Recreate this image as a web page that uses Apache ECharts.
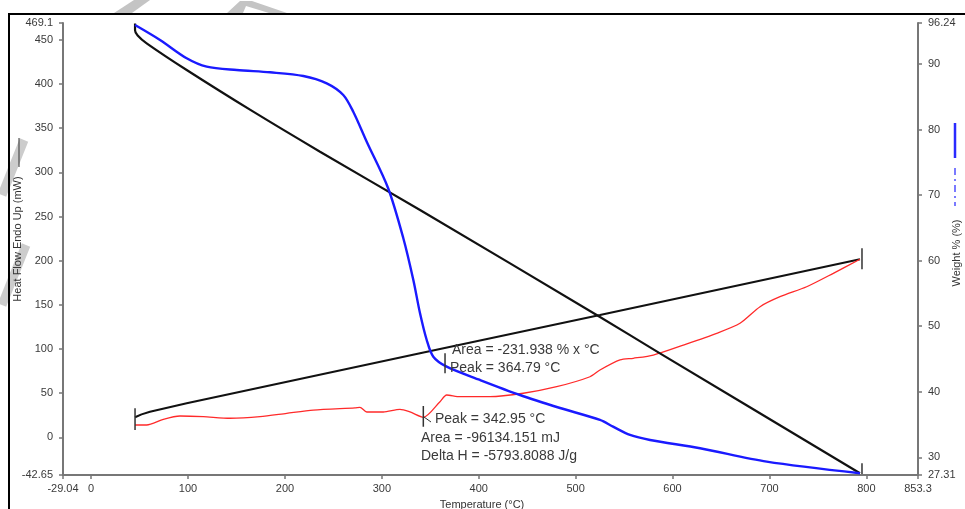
<!DOCTYPE html>
<html>
<head>
<meta charset="utf-8">
<script src="https://cdn.jsdelivr.net/npm/echarts@6/dist/echarts.min.js"></script>
<style>html,body{margin:0;padding:0;background:#fff;}#c{width:965px;height:509px;}</style>
</head>
<body>
<div id="c"></div>
<script>
// ---- tick labels ----
const xTicks = [-29.04, 0, 100, 200, 300, 400, 500, 600, 700, 800, 853.3];
const yLeftTicks = [-42.65, 0, 50, 100, 150, 200, 250, 300, 350, 400, 450, 469.1];
const yRightTicks = [27.31, 30, 40, 50, 60, 70, 80, 90, 96.24];

// ---- heat flow (black, descending, left axis) ----
const heatT = [45.3, 45.3, 48.0, 57.3, 98.6, 167.3, 236.2, 339.4, 521.7, 587.0, 793.4];
const heatV = [468.5, 461.0, 455.0, 446.1, 415.9, 368.7, 323.4, 257.4, 138.5, 95.1, -40.7];

// ---- weight % (blue, right axis) ----
const wT = [45.3, 71.1, 98.6, 119.3, 150.2, 184.6, 219.0, 243.1, 260.2, 270.5, 284.4, 306.4, 322.1, 332.5, 339.4, 346.3, 353.1, 366.9, 401.3, 442.6, 483.9, 525.1, 538.6, 556.1, 576.8, 628.4, 697.2, 793.4];
const wV = [95.93, 93.65, 90.86, 89.58, 89.07, 88.72, 88.16, 87.04, 85.26, 82.71, 78.14, 71.08, 63.45, 57.05, 51.97, 47.90, 45.35, 43.83, 41.80, 39.51, 37.53, 35.70, 34.68, 33.42, 32.65, 31.39, 29.34, 27.57];

// ---- red signal (left axis) ----
const rT = [45.3, 57.3, 74.5, 91.7, 115.7, 143.3, 174.3, 201.8, 229.3, 272.3, 277.4, 284.4, 301.5, 318.7, 329.1, 342.95, 360.0, 366.9, 380.6, 411.6, 446.0, 480.4, 514.8, 525.1, 545.8, 559.5, 580.1, 611.1, 645.6, 669.6, 690.3, 710.9, 738.4, 765.9, 793.4];
const rV = [13.96, 13.96, 20.4, 24.15, 23.4, 21.6, 23.4, 27.2, 30.9, 33.4, 34.0, 28.7, 28.7, 31.7, 28.7, 22.7, 40.3, 47.9, 46.0, 46.0, 49.9, 57.3, 68.6, 76.2, 87.6, 89.5, 93.2, 104.5, 117.8, 129.1, 147.9, 159.2, 170.5, 185.7, 201.6];

// ---- baseline (black, rising, left axis) ----
const bT = [45.3, 52.0, 60.7, 98.6, 339.4, 525.1, 793.4];
const bV = [22.7, 26.0, 29.0, 38.5, 95.3, 138.5, 201.6];

// ---- vertical limit/peak markers ----
const markT = [45.3, 795.5, 795.5, 342.8, 365.2];
const markLow = [8.3, 190.2, -41.5, 12.0, 72.5];
const markHigh = [32.9, 214.0, -29.4, 35.5, 95.1];
const markAxis = [0, 0, 0, 0, 0];

// ---- annotations ----
const notes = [
  {text: 'Area = -231.938 % x °C', left: 452, top: 343},
  {text: 'Peak = 364.79 °C', left: 450, top: 361},
  {text: 'Peak = 342.95 °C', left: 435, top: 412},
  {text: 'Area = -96134.151 mJ', left: 421, top: 431},
  {text: 'Delta H = -5793.8088 J/g', left: 421, top: 449}
];

const zip = (a, b) => a.map((v, i) => [v, b[i]]);
const FONT = '"Liberation Sans", Arial, sans-serif';

const series = [
  {name: 'Baseline', type: 'line', yAxisIndex: 0, data: zip(bT, bV), showSymbol: false, smooth: false,
   lineStyle: {color: '#111', width: 2}, z: 3},
  {name: 'Signal', type: 'line', yAxisIndex: 0, data: zip(rT, rV), showSymbol: false, smooth: 0.25,
   lineStyle: {color: '#ff2a2a', width: 1.3}, z: 3},
  {name: 'Heat Flow', type: 'line', yAxisIndex: 0, data: zip(heatT, heatV), showSymbol: false, smooth: 0.3,
   lineStyle: {color: '#111', width: 2.2}, z: 4},
  {name: 'Weight', type: 'line', yAxisIndex: 1, data: zip(wT, wV), showSymbol: false, smooth: 0.3,
   lineStyle: {color: '#1a1aff', width: 2.4}, z: 5}
];
markT.forEach((t, i) => {
  series.push({type: 'line', yAxisIndex: markAxis[i], data: [[t, markLow[i]], [t, markHigh[i]]],
    showSymbol: false, lineStyle: {color: '#333', width: 1.5}, z: 6, silent: true});
});

const axisCol = '#777';
const labelStyle = {color: '#3a3a3a', fontSize: 11, fontFamily: FONT};

const graphic = [
  {type: 'rect', shape: {x: 9, y: 14, width: 1000, height: 600}, style: {fill: 'none', stroke: '#000', lineWidth: 2}, z: 10},
  // watermark fragments
  {type: 'polygon', shape: {points: [[114, 13], [132, 13], [150, 0], [134, 0]]}, style: {fill: '#c4c4c4'}, z: 1},
  {type: 'polygon', shape: {points: [[227, 13], [240, 1], [252, 1], [287, 13], [269, 13], [246, 6], [243, 13]]}, style: {fill: '#c4c4c4'}, z: 1},
  {type: 'polyline', shape: {points: [[24, 140], [14, 165], [2, 195]]}, style: {stroke: '#cccccc', lineWidth: 9, fill: 'none'}, z: 1},
  {type: 'polyline', shape: {points: [[26, 245], [14, 275], [2, 305]]}, style: {stroke: '#cccccc', lineWidth: 9, fill: 'none'}, z: 1},
  // left axis title
  {type: 'text', x: 18, y: 239, rotation: Math.PI / 2,
   style: {text: 'Heat Flow Endo Up (mW)', align: 'center', verticalAlign: 'middle', font: '11px ' + FONT, fill: '#333'}, z: 20},
  {type: 'line', shape: {x1: 19, y1: 138, x2: 19, y2: 167}, style: {stroke: '#333', lineWidth: 1}, z: 20},
  // right axis title
  {type: 'text', x: 957, y: 253, rotation: Math.PI / 2,
   style: {text: 'Weight % (%)', align: 'center', verticalAlign: 'middle', font: '11px ' + FONT, fill: '#333'}, z: 20},
  {type: 'line', shape: {x1: 955, y1: 123, x2: 955, y2: 158}, style: {stroke: '#2a2aff', lineWidth: 2.5}, z: 20},
  {type: 'line', shape: {x1: 955, y1: 168, x2: 955, y2: 206}, style: {stroke: '#7a7aff', lineWidth: 2, lineDash: [7, 4, 2, 4]}, z: 20},
  // x axis title
  {type: 'text', x: 482, y: 499, style: {text: 'Temperature (°C)', align: 'center', verticalAlign: 'top', font: '11px ' + FONT, fill: '#333'}, z: 20},
  // leader tick at peak 342.95
  {type: 'line', shape: {x1: 424, y1: 417, x2: 431, y2: 422}, style: {stroke: '#333', lineWidth: 1}, z: 20}
];
notes.forEach(n => graphic.push({type: 'text', x: n.left, y: n.top,
  style: {text: n.text, font: '14px ' + FONT, fill: '#3a3a3a', align: 'left', verticalAlign: 'top'}, z: 20}));

const fmt = v => String(v);

const option = {
  animation: false,
  backgroundColor: '#fff',
  grid: {left: 63, right: 47, top: 23, bottom: 34, containLabel: false},
  xAxis: {
    type: 'value', min: -29.04, max: 853.3,
    axisLine: {onZero: false, lineStyle: {color: axisCol, width: 2}},
    axisTick: {show: true, length: 4, customValues: xTicks, lineStyle: {color: axisCol, width: 1.5}},
    axisLabel: Object.assign({customValues: xTicks, formatter: fmt, margin: 8, showMinLabel: true, showMaxLabel: true}, labelStyle),
    splitLine: {show: false}
  },
  yAxis: [
    {type: 'value', position: 'left', min: -42.65, max: 469.1,
     axisLine: {show: true, onZero: false, lineStyle: {color: axisCol, width: 2}},
     axisTick: {show: true, length: 4, customValues: yLeftTicks, lineStyle: {color: axisCol, width: 1.5}},
     axisLabel: Object.assign({customValues: yLeftTicks, formatter: fmt, margin: 10, showMinLabel: true, showMaxLabel: true}, labelStyle),
     splitLine: {show: false}},
    {type: 'value', position: 'right', min: 27.31, max: 96.24,
     axisLine: {show: true, onZero: false, lineStyle: {color: axisCol, width: 2}},
     axisTick: {show: true, length: 4, customValues: yRightTicks, lineStyle: {color: axisCol, width: 1.5}},
     axisLabel: Object.assign({customValues: yRightTicks, formatter: fmt, margin: 10, showMinLabel: true, showMaxLabel: true}, labelStyle),
     splitLine: {show: false}}
  ],
  series: series,
  graphic: graphic
};

const chart = echarts.init(document.getElementById('c'), null, {renderer: 'canvas'});
chart.setOption(option);
</script>
</body>
</html>
